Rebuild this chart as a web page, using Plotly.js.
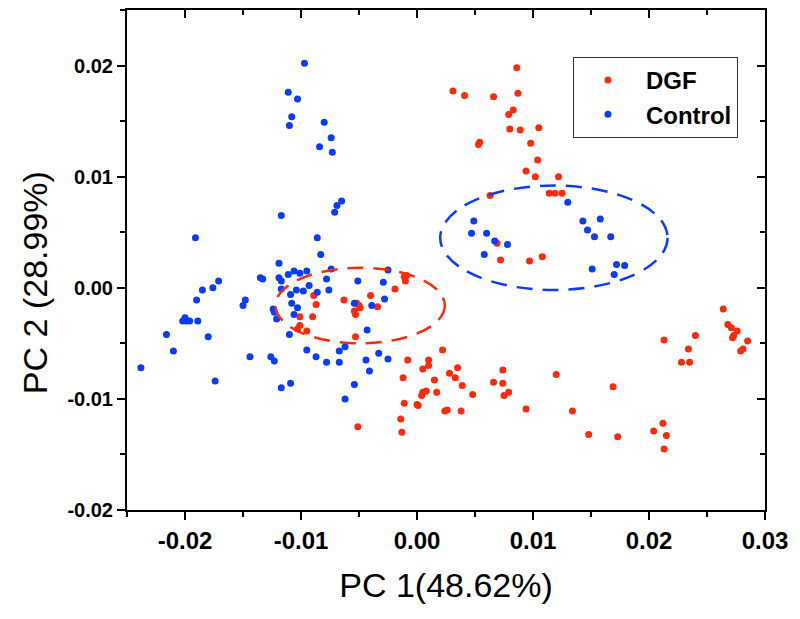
<!DOCTYPE html>
<html>
<head>
<meta charset="utf-8">
<script src="https://cdn.plot.ly/plotly-3.0.1.min.js"></script>
<style>html,body{margin:0;padding:0;background:#fff;}#chart{width:800px;height:619px;}</style>
</head>
<body>
<div id="chart"></div>
<script>
// ---- DGF (red) series ----
const dgfX = [0.0086,0.0031,0.0041,0.0066,0.0087,0.0083,0.0079,0.0080,0.0089,0.0105,
  0.0054,0.0053,0.0098,0.0104,0.0094,0.0102,0.0122,0.0114,0.0119,0.0125,
  0.0063,0.0069,0.0072,0.0097,0.0108,-0.0009,-0.0010,-0.0011,-0.0019,-0.0063,
  -0.0040,-0.0034,-0.0052,-0.0050,-0.0049,-0.0054,-0.0053,-0.0053,-0.0089,-0.0087,
  -0.0101,-0.0090,-0.0101,-0.0103,-0.0095,-0.0051,-0.0008,-0.0012,-0.0011,-0.0014,
  -0.0013,0.0005,0.0010,0.0010,0.0022,0.0015,0.0008,0.0005,0.0004,0.0001,
  0.0000,0.0017,0.0028,0.0033,0.0035,0.0039,0.0024,0.0026,0.0038,0.0048,
  0.0066,0.0074,0.0074,0.0075,0.0079,0.0094,0.0120,0.0169,0.0134,0.0148,
  0.0173,0.0204,0.0212,0.0215,0.0213,0.0213,0.0234,0.0228,0.0235,0.0240,
  0.0272,0.0279,0.0281,0.0285,0.0264,0.0268,0.0271,0.0276,0.0273];
const dgfY = [0.0198,0.0177,0.0173,0.0172,0.0175,0.0160,0.0156,0.0143,0.0142,0.0144,
  0.0131,0.0129,0.0130,0.0115,0.0105,0.0100,0.0100,0.0085,0.0085,0.0085,
  0.0083,0.0040,0.0025,0.0024,0.0028,0.0011,0.0006,0.0010,-0.0001,-0.0011,
  -0.0007,-0.0017,-0.0014,-0.0016,-0.0018,-0.0021,-0.0024,-0.0044,-0.0007,-0.0015,
  -0.0026,-0.0026,-0.0034,-0.0037,-0.0039,-0.0125,-0.0065,-0.0081,-0.0104,-0.0118,
  -0.0130,-0.0073,-0.0065,-0.0070,-0.0056,-0.0083,-0.0093,-0.0094,-0.0097,-0.0106,
  -0.0105,-0.0094,-0.0077,-0.0081,-0.0072,-0.0088,-0.0111,-0.0110,-0.0111,-0.0096,
  -0.0085,-0.0086,-0.0074,-0.0097,-0.0094,-0.0109,-0.0078,-0.0089,-0.0111,-0.0132,
  -0.0134,-0.0129,-0.0122,-0.0133,-0.0145,-0.0047,-0.0055,-0.0067,-0.0067,-0.0043,
  -0.0045,-0.0057,-0.0055,-0.0048,-0.0019,-0.0033,-0.0036,-0.0039,-0.0043];

// ---- Control (blue) series ----
const ctrlX = [-0.0097,-0.0111,-0.0103,-0.0108,-0.0110,-0.0080,-0.0074,-0.0084,-0.0073,-0.0065,
  -0.0069,-0.0071,-0.0117,-0.0191,-0.0086,-0.0083,-0.0119,-0.0074,-0.0106,-0.0111,
  -0.0101,-0.0095,-0.0171,-0.0176,-0.0185,-0.0190,-0.0135,-0.0133,-0.0119,-0.0117,
  -0.0117,-0.0078,-0.0076,-0.0104,-0.0098,-0.0093,-0.0086,-0.0109,-0.0108,-0.0103,
  -0.0148,-0.0150,-0.0124,-0.0123,-0.0121,-0.0106,-0.0200,-0.0202,-0.0199,-0.0196,
  -0.0189,-0.0216,-0.0180,-0.0110,-0.0238,-0.0210,-0.0174,-0.0144,-0.0126,-0.0123,
  -0.0117,-0.0109,-0.0095,-0.0087,-0.0078,-0.0067,-0.0067,-0.0062,-0.0062,-0.0043,
  -0.0044,-0.0033,-0.0025,-0.0041,-0.0054,-0.0051,-0.0029,-0.0025,-0.0028,-0.0054,
  -0.0039,0.0049,0.0047,0.0060,0.0067,0.0078,0.0058,0.0130,0.0143,0.0158,
  0.0147,0.0153,0.0167,0.0151,0.0172,0.0179,0.0170];
const ctrlY = [0.0202,0.0176,0.0170,0.0154,0.0146,0.0149,0.0135,0.0127,0.0122,0.0078,
  0.0074,0.0068,0.0065,0.0045,0.0045,0.0030,0.0022,0.0017,0.0015,0.0012,
  0.0013,0.0015,0.0006,0.0000,-0.0002,-0.0011,0.0009,0.0008,0.0009,0.0006,
  -0.0001,0.0008,-0.0002,-0.0002,-0.0003,0.0002,-0.0004,-0.0006,-0.0014,-0.0018,
  -0.0011,-0.0016,-0.0019,-0.0022,-0.0028,-0.0024,-0.0027,-0.0030,-0.0030,-0.0030,
  -0.0030,-0.0042,-0.0044,-0.0042,-0.0072,-0.0057,-0.0084,-0.0062,-0.0062,-0.0066,
  -0.0090,-0.0086,-0.0056,-0.0062,-0.0067,-0.0057,-0.0067,-0.0053,-0.0100,-0.0038,
  -0.0065,-0.0059,-0.0064,-0.0075,-0.0087,0.0006,0.0005,0.0016,-0.0010,-0.0014,
  -0.0016,0.0060,0.0049,0.0049,0.0042,0.0039,0.0030,0.0077,0.0060,0.0062,
  0.0052,0.0046,0.0046,0.0017,0.0021,0.0020,0.0012];

// ---- dashed group ellipses: [centerX, centerY, radiusX, radiusY] ----
const dgfEllipse = [-0.0049, -0.0016, 0.0073, 0.0034];
const ctrlEllipse = [0.0118, 0.0045, 0.0098, 0.0047];

// ---- axes ----
const xRange = [-0.025, 0.03];
const yRange = [-0.02, 0.025];
const xTickVals = [-0.02, -0.01, 0.00, 0.01, 0.02, 0.03];
const xTickText = ['-0.02', '-0.01', '0.00', '0.01', '0.02', '0.03'];
const yTickVals = [-0.02, -0.01, 0.00, 0.01, 0.02];
const yTickText = ['-0.02', '-0.01', '0.00', '0.01', '0.02'];
const xTitle = 'PC 1(48.62%)';
const yTitle = 'PC 2 (28.99%)';

const RED = '#ff2a0a';
const BLUE = '#0a3cff';
const FONT = 'Liberation Sans, Arial, Helvetica, sans-serif';

function ellipseShape(e, color) {
  return {
    type: 'circle', xref: 'x', yref: 'y',
    x0: e[0] - e[2], x1: e[0] + e[2], y0: e[1] - e[3], y1: e[1] + e[3],
    line: { color: color, width: 2.5, dash: '16px,10px' }, fillcolor: 'rgba(0,0,0,0)'
  };
}

const traces = [
  { x: dgfX, y: dgfY, type: 'scatter', mode: 'markers', name: 'DGF',
    marker: { color: RED, size: 7 }, hoverinfo: 'x+y' },
  { x: ctrlX, y: ctrlY, type: 'scatter', mode: 'markers', name: 'Control',
    marker: { color: BLUE, size: 7 }, hoverinfo: 'x+y' },
  { x: [], y: [], xaxis: 'x2', yaxis: 'y2', type: 'scatter', mode: 'markers', showlegend: false, hoverinfo: 'skip' }
];

const axisCommon = {
  showgrid: false, zeroline: false, showline: true, linecolor: '#000', linewidth: 2,
  tickcolor: '#000', tickwidth: 2, ticklen: 8
};

const layout = {
  width: 800, height: 619,
  margin: { l: 127, r: 35, t: 10, b: 109 },
  paper_bgcolor: '#fff', plot_bgcolor: '#fff',
  font: { family: FONT, color: '#000' },
  showlegend: true,
  legend: {
    x: 0.699, y: 0.906, xanchor: 'left', yanchor: 'top',
    bordercolor: '#333', borderwidth: 1, bgcolor: '#fff',
    font: { family: FONT, size: 24, weight: 'bold', color: '#000' },
    indentation: -4, itemwidth: 66, tracegroupgap: 0
  },
  xaxis: Object.assign({}, axisCommon, {
    range: xRange, tickmode: 'array', tickvals: xTickVals, ticktext: xTickText,
    ticks: 'outside',
    tickfont: { family: FONT, size: 24, weight: 'bold', color: '#000' },
    minor: { tickmode: 'linear', tick0: 0, dtick: 0.005, ticks: 'outside', ticklen: 5, tickwidth: 2, tickcolor: '#000' },
    title: { text: xTitle, font: { family: FONT, size: 34, color: '#000' }, standoff: 20 }
  }),
  yaxis: Object.assign({}, axisCommon, {
    range: yRange, tickmode: 'array', tickvals: yTickVals, ticktext: yTickText,
    ticks: 'outside',
    tickfont: { family: FONT, size: 20, weight: 'bold', color: '#000' },
    minor: { tickmode: 'linear', tick0: 0, dtick: 0.005, ticks: 'outside', ticklen: 5, tickwidth: 2, tickcolor: '#000' }
  }),
  xaxis2: Object.assign({}, axisCommon, {
    range: xRange, overlaying: 'x', side: 'top', anchor: 'y2',
    tickmode: 'array', tickvals: xTickVals, showticklabels: false, ticks: 'inside',
    minor: { tickmode: 'linear', tick0: 0, dtick: 0.005, ticks: 'inside', ticklen: 5, tickwidth: 2, tickcolor: '#000' }
  }),
  yaxis2: Object.assign({}, axisCommon, {
    range: yRange, overlaying: 'y', side: 'right', anchor: 'x2',
    tickmode: 'array', tickvals: yTickVals, showticklabels: false, ticks: 'inside',
    minor: { tickmode: 'linear', tick0: 0, dtick: 0.005, ticks: 'inside', ticklen: 5, tickwidth: 2, tickcolor: '#000' }
  }),
  annotations: [{
    text: yTitle, xref: 'paper', yref: 'paper', x: -0.144, y: 0.454,
    xanchor: 'center', yanchor: 'middle', textangle: -90, showarrow: false,
    font: { family: FONT, size: 34, color: '#000' }
  }],
  shapes: [ellipseShape(dgfEllipse, RED), ellipseShape(ctrlEllipse, BLUE)]
};

Plotly.newPlot('chart', traces, layout, { displayModeBar: false, staticPlot: true });
</script>
</body>
</html>
